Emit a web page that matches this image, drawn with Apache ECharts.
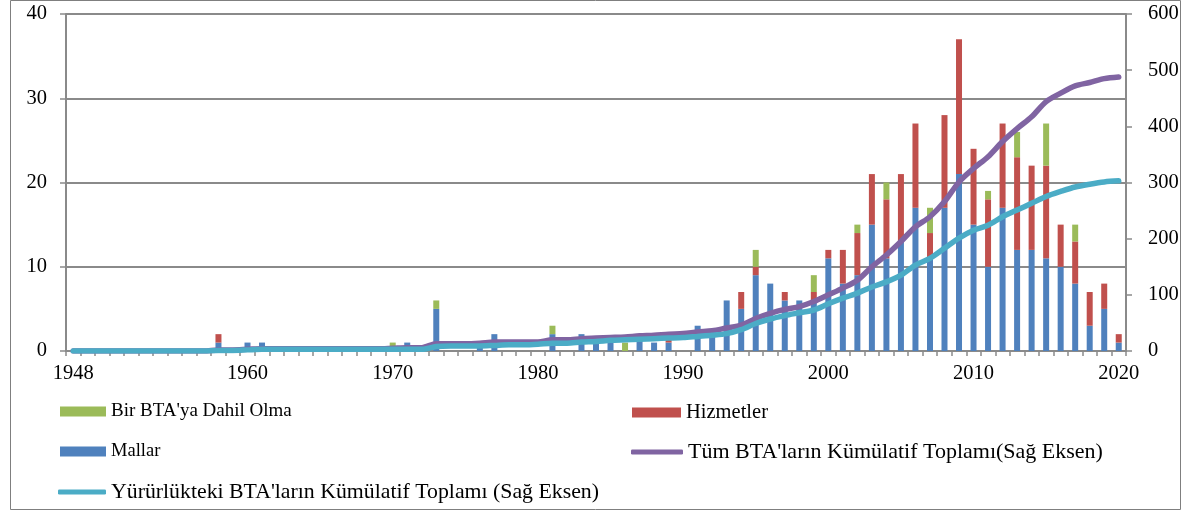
<!DOCTYPE html>
<html><head><meta charset="utf-8">
<script src="https://cdn.jsdelivr.net/npm/echarts@6/dist/echarts.min.js"></script>
<style>html,body{margin:0;padding:0;background:#fff}#c{width:1192px;height:513px}</style>
</head><body><div id="c"></div>
<script>
const years = [
 '1948','1949','1950','1951','1952','1953','1954','1955','1956','1957',
 '1958','1959','1960','1961','1962','1963','1964','1965','1966','1967',
 '1968','1969','1970','1971','1972','1973','1974','1975','1976','1977',
 '1978','1979','1980','1981','1982','1983','1984','1985','1986','1987',
 '1988','1989','1990','1991','1992','1993','1994','1995','1996','1997',
 '1998','1999','2000','2001','2002','2003','2004','2005','2006','2007',
 '2008','2009','2010','2011','2012','2013','2014','2015','2016','2017',
 '2018','2019','2020'];
const xTickLabels = ['1948','1960','1970','1980','1990','2000','2010','2020'];
const leftTicks = [0, 10, 20, 30, 40];
const rightTicks = [0, 100, 200, 300, 400, 500, 600];

const mallar = [
 0,0,0,0,0,0,0,0,0,0,
 1,0,1,1,0,0,0,0,0,0,
 0,0,0,1,0,5,0,0,1,2,
 0,0,0,2,0,2,1,1,0,2,
 1,1,0,3,2,6,5,9,8,6,
 6,6,11,8,9,15,11,13,17,11,
 17,21,15,10,17,12,12,11,10,8,
 3,5,1];
const hizmetler = [
 0,0,0,0,0,0,0,0,0,0,
 1,0,0,0,0,0,0,0,0,0,
 0,0,0,0,0,0,0,0,0,0,
 0,0,0,0,0,0,0,0,0,0,
 0,1,0,0,0,0,2,1,0,1,
 0,1,1,4,5,6,7,8,10,3,
 11,16,9,8,10,11,10,11,5,5,
 4,3,1];
const dahilOlma = [
 0,0,0,0,0,0,0,0,0,0,
 0,0,0,0,0,0,0,0,0,0,
 0,0,1,0,0,1,0,0,0,0,
 0,0,0,1,0,0,0,0,1,0,
 0,0,0,0,0,0,0,2,0,0,
 0,2,0,0,1,0,2,0,0,3,
 0,0,0,1,0,3,0,5,0,2,
 0,0,0];
const tumKumulatif = [
 0,0,0,0,0,0,0,0,0,0,
 2,2,3,4,4,4,4,4,4,4,
 4,4,5,6,6,13,13,13,14,16,
 16,16,16,20,20,22,23,24,25,27,
 28,30,31,34,36,41,46,58,67,74,
 79,88,100,112,126,150,171,195,221,239,
 266,301,325,346,373,396,417,444,459,472,
 478,485,488];
const yururlukKumulatif = [
 0,0,0,0,0,0,0,0,0,0,
 1,1,2,3,3,3,3,3,3,3,
 3,3,3,3,3,8,9,9,9,10,
 11,11,12,14,14,16,17,19,20,21,
 22,23,24,26,28,31,38,49,57,63,
 68,73,84,94,103,114,123,135,153,165,
 183,201,215,224,239,251,263,275,284,292,
 297,301,303];

const names = {
  g: "Bir BTA'ya Dahil Olma",
  h: "Hizmetler",
  m: "Mallar",
  t: "Tüm BTA'ların Kümülatif Toplamı(Sağ Eksen)",
  y: "Yürürlükteki BTA'ların Kümülatif Toplamı (Sağ Eksen)"
};
const FONT = 'Liberation Serif';
const GRAY = '#8a8a8a';
function leg(name, left, top, icon, w, h, fs) {
  return {data: [name], left: left, top: top, icon: icon, itemWidth: w, itemHeight: h,
    padding: 0, selectedMode: false,
    textStyle: {fontFamily: FONT, fontSize: fs, color: '#000'}};
}

const chart = echarts.init(document.getElementById('c'), null, {renderer: 'canvas'});
chart.setOption({
  animation: false,
  backgroundColor: '#fff',
  graphic: [{type: 'rect', shape: {x: 10.5, y: 0.5, width: 1170, height: 509},
    style: {fill: 'none', stroke: '#7f7f7f', lineWidth: 1}, z: -1}],
  grid: {left: 66, right: 66, top: 14, bottom: 162},
  legend: [
    leg(names.g, 60, 402, 'rect', 46, 10, 19),
    leg(names.h, 632, 402, 'rect', 49, 10, 20.5),
    leg(names.m, 60, 442, 'rect', 46, 10, 18.5),
    leg(names.t, 631, 441, 'roundRect', 52, 5, 22),
    leg(names.y, 58, 481, 'roundRect', 48, 5, 21.8)
  ],
  xAxis: {
    type: 'category', data: years, boundaryGap: true,
    axisLine: {lineStyle: {color: GRAY, width: 2}},
    axisTick: {show: true, interval: 0, length: 5, lineStyle: {color: GRAY, width: 1.5}},
    axisLabel: {
      interval: function (i, v) { return xTickLabels.indexOf(v) >= 0; },
      fontFamily: FONT, fontSize: 20.5, color: '#000', margin: 12
    },
    splitLine: {show: false}
  },
  yAxis: [{
    type: 'value', min: leftTicks[0], max: leftTicks[leftTicks.length - 1], interval: 10, position: 'left',
    axisLine: {show: true, lineStyle: {color: GRAY, width: 2}},
    axisTick: {show: true, length: 6, lineStyle: {color: GRAY, width: 1.5}},
    axisLabel: {fontFamily: FONT, fontSize: 20.5, color: '#000', margin: 19},
    splitLine: {show: true, lineStyle: {color: GRAY, width: 2}}
  }, {
    type: 'value', min: rightTicks[0], max: rightTicks[rightTicks.length - 1], interval: 100, position: 'right',
    axisLine: {show: true, lineStyle: {color: GRAY, width: 2}},
    axisTick: {show: true, length: 6, lineStyle: {color: GRAY, width: 1.5}},
    axisLabel: {fontFamily: FONT, fontSize: 20.5, color: '#000', margin: 22},
    splitLine: {show: false}
  }],
  series: [
    {name: names.m, type: 'bar', stack: 'b', data: mallar, barWidth: 6, itemStyle: {color: '#4F81BD'}},
    {name: names.h, type: 'bar', stack: 'b', data: hizmetler, barWidth: 6, itemStyle: {color: '#C0504D'}},
    {name: names.g, type: 'bar', stack: 'b', data: dahilOlma, barWidth: 6, itemStyle: {color: '#9BBB59'}},
    {name: names.t, type: 'line', yAxisIndex: 1, data: tumKumulatif, smooth: 0.3, showSymbol: false, symbol: 'none',
      lineStyle: {color: '#8064A2', width: 5.5, cap: 'round', join: 'round'}, itemStyle: {color: '#8064A2'}, z: 3},
    {name: names.y, type: 'line', yAxisIndex: 1, data: yururlukKumulatif, smooth: 0.3, showSymbol: false, symbol: 'none',
      lineStyle: {color: '#4BACC6', width: 5.5, cap: 'round', join: 'round'}, itemStyle: {color: '#4BACC6'}, z: 4}
  ]
});
</script>
</body></html>
